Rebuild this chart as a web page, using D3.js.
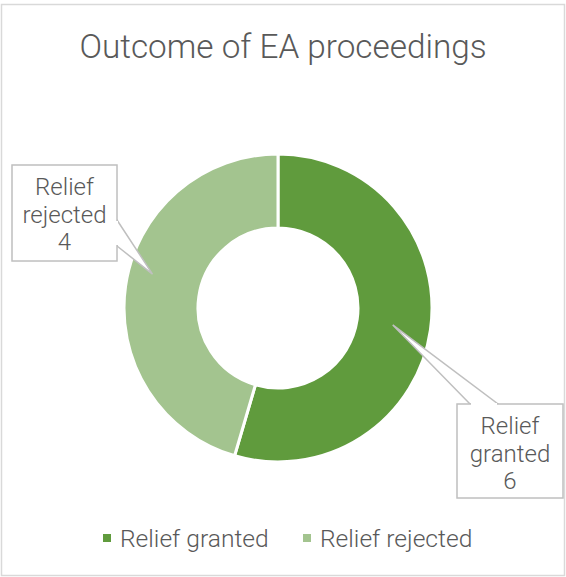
<!DOCTYPE html>
<html>
<head>
<meta charset="utf-8">
<script src="https://cdn.jsdelivr.net/npm/d3@7"></script>
<style>
  body { margin: 0; background: #fff; }
  text { font-family: "Helvetica Neue", Roboto, "Liberation Sans", sans-serif; fill: #595959; }
</style>
</head>
<body>
<svg id="chart" width="566" height="577"></svg>
<script>
// chart data
const categories = ["Relief granted", "Relief rejected"];
const labelValues = [6, 4];       // numbers printed in the callouts
const sliceShares = [6, 5];       // arc sizes as drawn in the picture
const colors = ["#609b3d", "#a3c48f"];
const title = "Outcome of EA proceedings";

let svg = d3.select("#chart");

// outer frame
svg.append("rect")
  .attr("x", 1.5).attr("y", 4.5)
  .attr("width", 563).attr("height", 571)
  .attr("fill", "#fff")
  .attr("stroke", "#d9d9d9")
  .attr("stroke-width", 1.5);

svg.append("text")
  .attr("x", 283).attr("y", 58)
  .attr("text-anchor", "middle")
  .attr("font-size", 33.3)
  .attr("font-weight", 300)
  .text(title);

const cx = 278, cy = 308;
const outerR = 154, innerR = 80;

let pie = d3.pie().sort(null).value(d => d);
let arc = d3.arc().innerRadius(innerR).outerRadius(outerR);
let arcs = pie(sliceShares);

let g = svg.append("g").attr("transform", `translate(${cx},${cy})`);
g.selectAll("path.slice")
  .data(arcs)
  .enter().append("path")
  .attr("class", "slice")
  .attr("d", arc)
  .attr("fill", (d, i) => colors[i])
  .attr("stroke", "#fff")
  .attr("stroke-width", 3);

// callouts: box + pointer whose tip sits inside the slice (angle, radius)
let callouts = [
  {i: 1, box: [12, 165, 105, 96], tipA: 4.976, tipR: 130, base: [[117, 220], [117, 246]]},
  {i: 0, box: [457, 404, 106, 94], tipA: 1.717, tipR: 116, base: [[470, 404], [498, 404]]}
];

callouts.forEach(function(c) {
  let tip = [cx + c.tipR * Math.sin(c.tipA), cy - c.tipR * Math.cos(c.tipA)];
  let cg = svg.append("g");
  cg.append("path")
    .attr("d", "M" + c.base[0] + "L" + tip + "L" + c.base[1] + "Z")
    .attr("fill", "#fff")
    .attr("stroke", "#bfbfbf")
    .attr("stroke-width", 1.5)
    .attr("stroke-linejoin", "miter");
  cg.append("rect")
    .attr("x", c.box[0]).attr("y", c.box[1])
    .attr("width", c.box[2]).attr("height", c.box[3])
    .attr("fill", "#fff")
    .attr("stroke", "#bfbfbf")
    .attr("stroke-width", 1.5);
  // cover the seam between pointer and box
  let b0 = c.base[0], b1 = c.base[1];
  if (b0[0] === b1[0]) {
    cg.append("line").attr("x1", b0[0]).attr("y1", b0[1] + 1).attr("x2", b1[0]).attr("y2", b1[1] - 1)
      .attr("stroke", "#fff").attr("stroke-width", 2);
  } else {
    cg.append("line").attr("x1", b0[0] + 1).attr("y1", b0[1]).attr("x2", b1[0] - 1).attr("y2", b1[1])
      .attr("stroke", "#fff").attr("stroke-width", 2);
  }
  let words = categories[c.i].split(" ");
  let lines = [words[0], words[1], String(labelValues[c.i])];
  let tx = c.box[0] + c.box[2] / 2;
  let ty0 = c.box[1] + 30;
  lines.forEach(function(l, k) {
    cg.append("text")
      .attr("x", tx).attr("y", ty0 + k * 27.5)
      .attr("text-anchor", "middle")
      .attr("font-size", 24)
      .attr("font-weight", 300)
      .text(l);
  });
});

// legend
let legendX = [103, 303];
let legend = svg.append("g");
categories.forEach(function(name, i) {
  legend.append("rect")
    .attr("x", legendX[i]).attr("y", 534)
    .attr("width", 8).attr("height", 8)
    .attr("fill", colors[i]);
  legend.append("text")
    .attr("x", legendX[i] + 17).attr("y", 547)
    .attr("font-size", 24.6)
    .attr("font-weight", 300)
    .text(name);
});
</script>
</body>
</html>
